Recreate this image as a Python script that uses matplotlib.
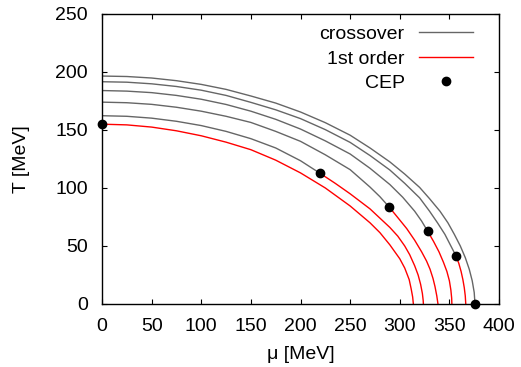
import matplotlib
matplotlib.use("Agg")
import matplotlib.pyplot as plt

plt.rcParams['font.family'] = ['Liberation Sans', 'DejaVu Sans']

# critical end points (mu, T)
cep_mu = [0.0, 219.6, 289.5, 328.0, 356.7, 375.8]
cep_T = [155.0, 112.7, 83.4, 62.9, 41.4, 0.0]

# crossover branches (each ends at its CEP)
cross_mu = [
    [0, 25, 50, 75, 100, 125, 150, 175, 200, 219.6],
    [0, 25, 50, 75, 100, 125, 150, 175, 200, 225, 250, 270, 280, 289.5],
    [0, 25, 50, 75, 100, 125, 150, 175, 200, 225, 250, 270, 290, 303, 315,
     322, 328],
    [0, 25, 50, 75, 100, 125, 150, 175, 200, 225, 250, 270, 290, 305, 320,
     330, 338, 345.5, 351.5, 356.7],
    [0, 25, 50, 75, 100, 125, 150, 175, 200, 225, 250, 270, 290, 305, 320,
     330, 340.5, 348.5, 355, 361, 366, 370, 373, 375, 375.8],
]
cross_T = [
    [162.3, 161.8, 160.2, 157.5, 153.8, 148.8, 142.5, 134.5, 123.5, 112.7],
    [174, 173.5, 172.1, 169.6, 166.2, 161.8, 156.5, 148.8, 140.2, 128.6,
     115.8, 100.8, 92.5, 83.4],
    [184, 183.5, 182.2, 179.8, 176.5, 172.0, 166.2, 159.2, 150.8, 140.6,
     129.3, 117, 103, 92, 80, 71.5, 62.9],
    [191.6, 191.2, 189.8, 187.5, 184.3, 179.8, 173.8, 167.4, 159.8, 150.3,
     139.3, 128, 115.5, 104, 91.5, 80, 70, 60, 50, 41.4],
    [196.5, 196.1, 194.8, 192.5, 189.3, 185.0, 179.3, 173.2, 165.5, 156.3,
     145.5, 134.5, 122.5, 112, 100.5, 90.8, 80, 70, 60, 50, 40, 30, 20, 10,
     0],
]

# first order branches (each starts at its CEP)
first_mu = [
    [0, 25, 50, 75, 100, 125, 150, 175, 200, 225, 250, 270, 280, 290, 300,
     305, 309.5, 311.5, 313, 313.7],
    [219.6, 235, 250, 270, 290, 298, 305, 310, 315, 318.5, 321, 322.8,
     323.6, 323.8],
    [289.5, 298, 307, 315, 322, 327, 330.5, 333.5, 335.5, 337.3, 338.5],
    [328, 334, 339.5, 344, 347.5, 350, 351.5, 352.3, 352.5],
    [356.7, 359.5, 361.8, 363.6, 365.0, 366.0, 366.5],
]
first_T = [
    [155, 154.4, 152.5, 149.3, 145, 139.5, 133, 124, 113, 100, 84.5, 70,
     61.5, 51, 39, 31, 21, 13, 6, 0],
    [112.7, 104, 95, 82, 66, 58.5, 50, 42.5, 33, 25, 17, 9, 3, 0],
    [83.4, 74.5, 65, 55, 45, 37, 30, 22, 15, 7, 0],
    [62.9, 54, 45, 36, 28, 20, 12, 5, 0],
    [41.4, 35, 28, 21, 14, 7, 0],
]

fig = plt.figure(figsize=(5.21, 3.67), dpi=100)
ax = fig.add_axes([0.1958, 0.1717, 0.762, 0.7902])

gray = '#666666'
for i, (m, t) in enumerate(zip(cross_mu, cross_T)):
    ax.plot(m, t, color=gray, lw=1.0, label='crossover' if i == 0 else None)
for i, (m, t) in enumerate(zip(first_mu, first_T)):
    ax.plot(m, t, color='red', lw=1.0, label='1st order' if i == 0 else None)
ax.plot(cep_mu, cep_T, 'o', color='black', ms=6, ls='none', clip_on=False,
        zorder=5, label='CEP')

ax.set_xlim(0, 400)
ax.set_ylim(0, 250)
ax.set_xticks(range(0, 401, 50))
ax.set_yticks(range(0, 251, 50))
ax.tick_params(direction='in', length=3.5, width=0.8, top=True, right=True,
               labelsize=14)
ax.tick_params(axis='x', pad=10)
ax.tick_params(axis='y', pad=10)
for s in ax.spines.values():
    s.set_linewidth(1.0)

ax.set_xlabel('μ [MeV]', fontsize=14, labelpad=8)
ax.set_ylabel('T [MeV]', fontsize=14, labelpad=18)

ax.legend(loc='upper right', bbox_to_anchor=(0.9345, 0.96), frameon=False,
          markerfirst=False, handlelength=2.8, handletextpad=0.72,
          labelspacing=0.35, fontsize=14, numpoints=1, borderpad=0,
          borderaxespad=0)

fig.savefig('out.png', dpi=100)
